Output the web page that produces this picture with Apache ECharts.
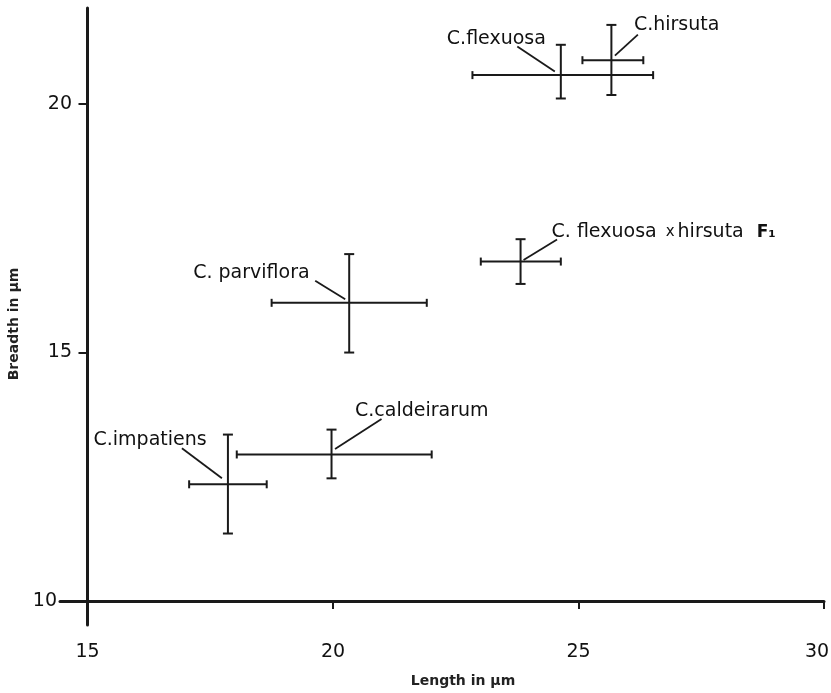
<!DOCTYPE html>
<html><head><meta charset="utf-8">
<script src="https://cdn.jsdelivr.net/npm/echarts@6/dist/echarts.min.js"></script>
<style>html,body{margin:0;padding:0;background:#fff}#c{width:831px;height:693px}</style>
</head><body><div id="c"></div>
<script>
// ---- data ----
const species     = ['C.impatiens', 'C.caldeirarum', 'C. parviflora', 'C.flexuosa', 'C.hirsuta', 'C. flexuosa x hirsuta F1'];
const lengthMean  = [17.86, 19.97, 20.33, 24.64, 25.67, 23.82];
const lengthLow   = [17.07, 18.04, 18.75, 22.84, 25.08, 23.01];
const lengthHigh  = [18.65, 22.01, 21.91, 26.52, 26.32, 24.64];
const breadthMean = [12.35, 12.95, 16.00, 20.58, 20.88, 16.83];
const breadthLow  = [11.36, 12.47, 15.00, 20.11, 20.18, 16.38];
const breadthHigh = [13.35, 13.45, 16.98, 21.19, 21.59, 17.28];
const xLabelValues = [15, 20, 25, 30];
const xTickValues  = [20, 25, 30];
const yLabelValues = [10, 15, 20];
const yTickValues  = [15, 20];
const xRange = [14.44, 30];
const yRange = [9.52, 21.93];
const xTitle = 'Length in μm';
const yTitle = 'Breadth in μm';

// ---- label layout (pixel offsets from each mark's centre) ----
const LABEL_LAYOUT = [
  { lead: [-6, -6, -46, -36],     text: [-134.4, -44] },
  { lead: [3.5, -5.5, 50, -35.5], text: [23.5, -43] },
  { lead: [-4, -3.5, -34, -22],   text: [-156, -30] },
  { lead: [-6, -3.5, -43.5, -28.5], text: [-114, -36.5] },
  { lead: [3.5, -4.5, 26.5, -25.5], text: [22.5, -35] },
  { lead: [3, -1.5, 36.5, -22],   text: [31, -29] }
];
const INK = '#1a1a1a';
const FONT = 'DejaVu Sans';

function labelText(name) {
  if (name.indexOf(' x ') >= 0) {
    const m = name.split(' x ');
    const tail = m[1].replace(/\s*F1$/, '');
    return '{n|' + m[0] + '}{s1|}{x|x}{s2|}{n|' + tail + '}{g|}{f|F₁}';
  }
  return '{n|' + name + '}';
}

const data = species.map((s, i) => [lengthMean[i], breadthMean[i], lengthLow[i], lengthHigh[i], breadthLow[i], breadthHigh[i]]);

const chart = echarts.init(document.getElementById('c'), null, { renderer: 'canvas' });
chart.setOption({
  backgroundColor: '#fff',
  animation: false,
  grid: { left: 60, right: 7, top: 8, bottom: 68, outerBoundsMode: 'none', containLabel: false },
  xAxis: {
    type: 'value', min: xRange[0], max: xRange[1], offset: -24,
    axisLine: { onZero: false, lineStyle: { color: INK, width: 3 } },
    axisTick: { customValues: xTickValues, length: 8, lineStyle: { color: INK, width: 2 } },
    axisLabel: {
      customValues: xLabelValues, margin: 42, color: '#111', fontFamily: FONT, fontSize: 19,
      formatter: v => v === 30 ? '{r|30}' : String(v),
      rich: { r: { padding: [0, 14, 0, 0], fontFamily: FONT, fontSize: 19, color: '#111' } }
    },
    splitLine: { show: false },
    name: xTitle, nameLocation: 'middle', nameGap: 73,
    nameTextStyle: { fontFamily: FONT, fontSize: 14, fontWeight: 'bold', color: '#222', padding: [0, 0, 0, 42] }
  },
  yAxis: {
    type: 'value', min: yRange[0], max: yRange[1], offset: -27.5,
    axisLine: { onZero: false, lineStyle: { color: INK, width: 3 } },
    axisTick: { customValues: yTickValues, length: 9, lineStyle: { color: INK, width: 2 } },
    axisLabel: {
      customValues: yLabelValues, margin: 15.5, color: '#111', fontFamily: FONT, fontSize: 19,
      formatter: v => v === 10 ? '{t|10}' : String(v),
      rich: { t: { padding: [0, 15, 0, 0], fontFamily: FONT, fontSize: 19, color: '#111' } }
    },
    splitLine: { show: false },
    name: yTitle, nameLocation: 'middle', nameGap: 66, nameRotate: 90,
    nameTextStyle: { fontFamily: FONT, fontSize: 14, fontWeight: 'bold', color: '#222', padding: [0, 15, 0, 0] }
  },
  series: [{
    type: 'custom',
    clip: false,
    encode: { x: [0, 2, 3], y: [1, 4, 5] },
    data: data,
    renderItem: function (params, api) {
      const i = params.dataIndex;
      const c = api.coord([api.value(0), api.value(1)]);
      const l = api.coord([api.value(2), api.value(1)]);
      const r = api.coord([api.value(3), api.value(1)]);
      const b = api.coord([api.value(0), api.value(4)]);
      const t = api.coord([api.value(0), api.value(5)]);
      const st = { stroke: INK, lineWidth: 2 };
      const capW = 5, capH = 4;
      const L = LABEL_LAYOUT[i];
      const line = (x1, y1, x2, y2, w) => ({ type: 'line', shape: { x1, y1, x2, y2 }, style: Object.assign({}, st, w ? { lineWidth: w } : {}) });
      return {
        type: 'group',
        children: [
          line(l[0], l[1], r[0], r[1]),
          line(l[0], l[1] - capH, l[0], l[1] + capH),
          line(r[0], r[1] - capH, r[0], r[1] + capH),
          line(t[0], t[1], b[0], b[1]),
          line(t[0] - capW, t[1], t[0] + capW, t[1]),
          line(b[0] - capW, b[1], b[0] + capW, b[1]),
          line(c[0] + L.lead[0], c[1] + L.lead[1], c[0] + L.lead[2], c[1] + L.lead[3], 1.8),
          {
            type: 'text',
            style: {
              x: c[0] + L.text[0], y: c[1] + L.text[1],
              text: labelText(species[i]),
              align: 'left', verticalAlign: 'middle',
              fill: '#111', font: '19px ' + FONT,
              rich: {
                n: { fontFamily: FONT, fontSize: 19, fill: '#111' },
                s1: { width: 9 },
                x: { fontFamily: FONT, fontSize: 15, fill: '#111' },
                s2: { width: 3 },
                g: { width: 13 },
                f: { fontFamily: FONT, fontSize: 17, fontWeight: 'bold', fill: '#111' }
              }
            }
          }
        ]
      };
    }
  }]
});
</script></body></html>
